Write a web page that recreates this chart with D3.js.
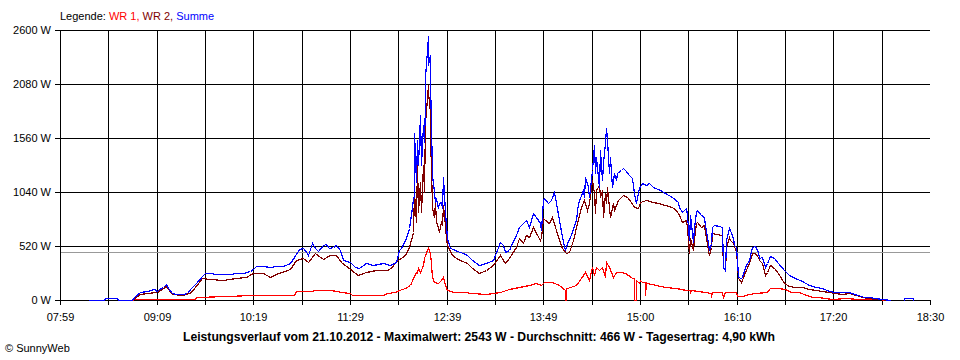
<!DOCTYPE html>
<html><head><meta charset="utf-8">
<script src="https://cdn.jsdelivr.net/npm/d3@7"></script>
<style>
body{margin:0;background:#fff;}
svg{display:block;font-family:"Liberation Sans",Arial,sans-serif;}
</style>
</head><body>
<svg id="chart" width="960" height="360"></svg>
<script>
// ---------- data ----------
const xTickLabels = ["07:59","09:09","10:19","11:29","12:39","13:49","15:00","16:10","17:20","18:30"];
const yTickValues = [0, 520, 1040, 1560, 2080, 2600];
const seriesNames = ["WR 1", "WR 2", "Summe"];
const maxValue = 2543;
const avgValue = 466;
const dayYield = "4,90";
const dateLabel = "21.10.2012";

// WR 1 [time, W]
const wr1 = [
["08:51",0],["08:53",7],["09:20",10],["09:37",12],["09:38",32],["10:00",39],["10:18",48],["10:49",51],
["10:50",87],["11:00",87],["11:05",92],["11:15",96],["11:20",87],["11:23",80],["11:29",64],["11:31",48],
["11:53",48],["11:56",71],["12:02",80],["12:05",96],["12:09",112],["12:13",144],["12:15",209],["12:17",273],
["12:18",257],["12:19",305],["12:20",273],["12:22",337],["12:23",401],["12:24",433],["12:25",480],["12:26",504],
["12:27",449],["12:28",350],["12:29",220],["12:30",177],["12:33",161],["12:35",193],["12:37",225],["12:38",144],
["12:40",96],["12:45",80],["12:52",80],["12:58",71],["13:08",58],["13:18",80],["13:25",105],["13:32",128],
["13:39",144],["13:44",161],["13:48",144],["13:50",177],["13:56",177],["14:01",144],["14:05",96],["14:05",0],
["14:06",0],["14:06",112],["14:07",112],["14:13",144],["14:18",241],["14:20",273],["14:23",193],["14:25",321],
["14:26",241],["14:28",321],["14:30",289],["14:32",321],["14:34",225],["14:35",369],["14:37",321],["14:40",225],
["14:42",273],["14:46",273],["14:49",257],["14:53",225],["14:54",209],["14:55",209],["14:55",0],["14:57",0],
["14:57",193],["14:59",161],["15:00",193],["15:01",177],["15:03",177],["15:03",48],["15:04",177],["15:05",161],
["15:11",144],["15:18",128],["15:26",112],["15:33",96],["15:36",96],["15:36",64],["15:37",96],["15:42",87],
["15:47",77],["15:51",64],["15:51",32],["15:52",80],["15:55",80],["15:59",73],["16:00",32],["16:01",80],
["16:04",80],["16:09",73],["16:10",42],["16:14",42],["16:19",55],["16:23",64],["16:32",73],["16:34",112],
["16:40",112],["16:45",103],["16:49",80],["16:55",73],["17:00",48],["17:05",32],["17:09",26],["17:14",19],
["17:19",13],["17:29",16],["17:38",13],["17:46",10],["17:53",6],["17:58",0]
];

// WR 2 [time, W]
const wr2 = [
["08:19",3],["08:31",3],["08:32",16],["08:40",16],["08:41",3],["08:51",3],["08:57",58],["09:02",71],
["09:09",80],["09:16",135],["09:20",58],["09:28",48],["09:34",80],["09:42",209],["09:48",199],["09:57",193],
["10:07",209],["10:14",225],["10:19",263],["10:26",263],["10:31",225],["10:36",250],["10:46",295],["10:50",385],
["10:55",401],["10:59",369],["11:04",449],["11:10",392],["11:15",433],["11:19",433],["11:23",369],["11:29",295],
["11:35",241],["11:41",273],["11:48",289],["11:56",289],["12:00",321],["12:02",369],["12:09",433],["12:12",514],
["12:15",658],["12:16",1043],["12:17",754],["12:18",1316],["12:19",850],["12:20",1139],["12:21",850],["12:22",1300],
["12:23",1043],["12:24",1717],["12:25",1942],["12:26",2070],["12:26",2006],["12:27",1813],["12:27",1557],["12:28",1268],
["12:29",883],["12:30",802],["12:31",947],["12:32",754],["12:33",700],["12:34",658],["12:35",754],["12:36",730],
["12:37",915],["12:38",722],["12:39",594],["12:40",530],["12:43",433],["12:46",401],["12:49",385],["12:54",353],
["12:58",305],["13:03",263],["13:08",289],["13:13",337],["13:18",430],["13:20",385],["13:22",353],["13:25",401],
["13:27",449],["13:30",514],["13:32",594],["13:35",546],["13:37",626],["13:39",610],["13:42",706],["13:44",642],
["13:47",578],["13:48",610],["13:49",786],["13:51",770],["13:54",738],["13:56",802],["13:59",674],["14:01",578],
["14:03",498],["14:06",449],["14:08",465],["14:11",578],["14:14",738],["14:17",899],["14:19",963],["14:21",867],
["14:23",931],["14:25",1156],["14:26",1027],["14:27",835],["14:28",1059],["14:30",1107],["14:31",995],["14:32",1059],
["14:33",802],["14:34",1027],["14:35",931],["14:36",1091],["14:37",899],["14:38",802],["14:40",931],["14:41",867],
["14:42",915],["14:44",963],["14:47",1011],["14:50",995],["14:53",947],["14:55",899],["14:58",883],["15:00",947],
["15:04",963],["15:09",947],["15:13",931],["15:18",915],["15:23",892],["15:26",867],["15:28",819],["15:30",754],
["15:33",770],["15:34",690],["15:35",449],["15:36",594],["15:38",482],["15:39",594],["15:40",738],["15:41",754],
["15:44",706],["15:46",722],["15:47",658],["15:49",482],["15:50",433],["15:51",514],["15:52",642],["15:55",634],
["15:59",626],["16:00",321],["16:01",289],["16:02",514],["16:04",610],["16:05",578],["16:07",546],["16:09",465],
["16:10",360],["16:11",209],["16:13",177],["16:14",193],["16:16",273],["16:19",353],["16:21",449],["16:23",456],
["16:25",417],["16:26",385],["16:28",353],["16:30",241],["16:32",273],["16:34",337],["16:37",305],["16:40",257],
["16:44",161],["16:48",135],["16:52",128],["16:57",122],["17:02",109],["17:07",96],["17:12",87],["17:17",77],
["17:21",64],["17:26",58],["17:31",64],["17:36",48],["17:41",32],["17:46",22],["17:50",13],["17:55",6],["17:58",0]
];

// Summe [time, W]  (null = no data)
const summe = [
["08:19",3],["08:31",3],["08:32",16],["08:40",16],["08:41",3],["08:51",3],["08:53",32],["08:57",74],
["09:02",87],["09:07",103],["09:09",90],["09:11",103],["09:14",122],["09:16",154],["09:17",112],["09:20",71],
["09:23",61],["09:28",58],["09:31",71],["09:34",112],["09:38",161],["09:42",231],["09:44",263],["09:48",257],
["09:52",247],["09:57",250],["10:02",250],["10:07",257],["10:12",263],["10:17",276],["10:19",295],["10:21",331],
["10:26",331],["10:31",315],["10:36",328],["10:41",331],["10:46",360],["10:49",417],["10:52",491],["10:55",498],
["10:58",456],["10:59",433],["11:02",546],["11:04",498],["11:06",475],["11:10",530],["11:12",536],["11:14",498],
["11:17",514],["11:19",530],["11:22",482],["11:24",385],["11:29",363],["11:33",321],["11:36",305],["11:41",353],
["11:46",337],["11:53",353],["11:58",337],["12:03",369],["12:05",481],["12:06",498],["12:10",594],["12:12",690],
["12:14",898],["12:15",979],["12:16",1000],["12:16",1605],["12:17",1139],["12:18",1541],["12:19",1300],["12:20",1781],
["12:21",1300],["12:22",1685],["12:23",1525],["12:24",1910],["12:24",2150],["12:25",2407],["12:26",2543],["12:26",2263],
["12:27",2359],["12:27",2102],["12:28",1685],["12:29",1204],["12:30",1043],["12:31",947],["12:32",979],["12:33",883],
["12:34",930],["12:35",947],["12:36",883],["12:37",1187],["12:38",850],["12:39",722],["12:40",594],["12:41",530],
["12:42",505],["12:44",491],["12:47",472],["12:51",455],["12:54",433],["12:58",385],["13:03",337],["13:08",353],
["13:13",385],["13:18",560],["13:20",530],["13:22",465],["13:25",482],["13:27",546],["13:30",626],["13:32",706],
["13:35",738],["13:37",770],["13:39",706],["13:42",835],["13:44",802],["13:47",738],["13:48",674],["13:49",963],
["13:50",979],["13:53",931],["13:55",963],["13:57",1043],["13:59",931],["14:01",770],["14:03",610],["14:05",482],
["14:07",546],["14:09",610],["14:13",770],["14:15",931],["14:18",1059],["14:19",995],["14:20",1187],["14:22",1091],
["14:23",995],["14:25",1252],["14:26",1493],["14:27",1220],["14:28",1380],["14:30",1091],["14:31",1445],["14:32",1156],
["14:33",1316],["14:34",1509],["14:35",1653],["14:36",1541],["14:37",1220],["14:38",1380],["14:39",1091],["14:41",1220],
["14:42",1156],["14:43",1220],["14:46",1252],["14:47",1274],["14:49",1252],["14:52",1204],["14:54",1172],["14:55",1027],
["14:57",931],["14:58",1027],["14:59",1075],["15:01",1123],["15:04",1107],["15:06",1123],["15:09",1091],["15:14",1059],
["15:18",1027],["15:23",995],["15:27",947],["15:28",899],["15:30",850],["15:33",883],["15:34",819],["15:35",578],
["15:36",819],["15:38",562],["15:39",706],["15:40",850],["15:41",867],["15:44",819],["15:46",802],["15:47",722],
["15:49",546],["15:50",482],["15:51",546],["15:52",706],["15:53",722],["15:57",714],["15:59",706],["16:00",321],
["16:01",289],["16:02",578],["16:04",690],["16:05",674],["16:07",594],["16:08",530],["16:09",514],["16:10",385],
["16:11",225],["16:13",209],["16:14",225],["16:16",321],["16:19",385],["16:21",514],["16:23",523],["16:25",465],
["16:26",401],["16:28",417],["16:30",321],["16:32",353],["16:34",424],["16:37",401],["16:40",353],["16:44",289],
["16:48",241],["16:52",209],["16:57",186],["17:02",144],["17:07",128],["17:12",112],["17:17",90],["17:21",80],
["17:26",73],["17:31",80],["17:33",64],["17:38",48],["17:42",32],["17:46",26],["17:50",16],["17:55",6],
["18:02",3],["18:03",null],["18:11",0],["18:11",19],["18:18",19],["18:18",0]
];

// ---------- drawing ----------
const toMin = s => { const [h, m] = s.split(":").map(Number); return h * 60 + m; };
const svg = d3.select("#chart");
const L = 60, R = 930, T = 30, B = 300;

const x = d3.scaleLinear()
  .domain([toMin(xTickLabels[0]), toMin(xTickLabels[xTickLabels.length - 1])])
  .range([L, R]);
const y = d3.scaleLinear().domain([0, 2600]).range([B, T]);

const nGrid = (xTickLabels.length - 1) * 2;
const dom = x.domain();
const gridTimes = d3.range(nGrid + 1).map(k => dom[0] + k * (dom[1] - dom[0]) / nGrid);

const grid = svg.append("g").attr("shape-rendering", "crispEdges")
  .attr("stroke", "#000").attr("stroke-width", 1);

// vertical grid + ticks
gridTimes.forEach((t, k) => {
  const px = Math.round(x(t)) + 0.5;
  grid.append("line").attr("x1", px).attr("x2", px)
    .attr("y1", k === nGrid ? B : T).attr("y2", B + 5);
});
// horizontal grid + ticks
yTickValues.forEach(v => {
  const py = Math.round(y(v)) + 0.5;
  grid.append("line").attr("x1", L - 5).attr("x2", R).attr("y1", py).attr("y2", py);
});

// average line
svg.append("line").attr("shape-rendering", "crispEdges")
  .attr("x1", L + 1).attr("x2", R)
  .attr("y1", Math.round(y(avgValue)) + 0.5).attr("y2", Math.round(y(avgValue)) + 0.5)
  .attr("stroke", "#999").attr("stroke-width", 1);

// y labels
svg.append("g").selectAll("text").data(yTickValues).join("text")
  .attr("x", 51).attr("y", d => Math.round(y(d)) + 4)
  .attr("text-anchor", "end").attr("font-size", 11).attr("fill", "#000")
  .text(d => d + " W");

// x labels
svg.append("g").selectAll("text").data(xTickLabels).join("text")
  .attr("x", (d, i) => Math.round(x(gridTimes[i * 2])) + 0.5)
  .attr("y", 321).attr("text-anchor", "middle").attr("font-size", 11).attr("fill", "#000")
  .text(d => d);

// lines
const line = d3.line()
  .defined(d => d[1] !== null)
  .x(d => Math.round(x(toMin(d[0]))) + 0.5)
  .y(d => Math.round(y(d[1])) + 0.5);

const series = [
  {data: wr1, color: "#ff0000"},
  {data: wr2, color: "#800000"},
  {data: summe, color: "#0000ff"}
];
series.forEach(s => {
  svg.append("path").datum(s.data)
    .attr("fill", "none").attr("stroke", s.color).attr("stroke-width", 1.2)
    .attr("shape-rendering", "crispEdges")
    .attr("stroke-linejoin", "miter")
    .attr("d", line);
});

// legend
const leg = svg.append("text").attr("x", 60).attr("y", 20).attr("font-size", 11).attr("fill", "#000");
leg.append("tspan").text("Legende: ");
leg.append("tspan").attr("fill", "#ff0000").text(seriesNames[0] + ", ");
leg.append("tspan").attr("fill", "#800000").text(seriesNames[1] + ", ");
leg.append("tspan").attr("fill", "#0000ff").text(seriesNames[2]);

// title
svg.append("text").attr("x", 479).attr("y", 341).attr("text-anchor", "middle")
  .attr("font-size", 12).attr("font-weight", "bold").attr("fill", "#000")
  .attr("textLength", 592).attr("lengthAdjust", "spacingAndGlyphs")
  .text(`Leistungsverlauf vom ${dateLabel} - Maximalwert: ${maxValue} W - Durchschnitt: ${avgValue} W - Tagesertrag: ${dayYield} kWh`);

// footer
svg.append("text").attr("x", 5).attr("y", 352).attr("font-size", 11).attr("fill", "#000")
  .text("© SunnyWeb");
</script>
</body></html>
